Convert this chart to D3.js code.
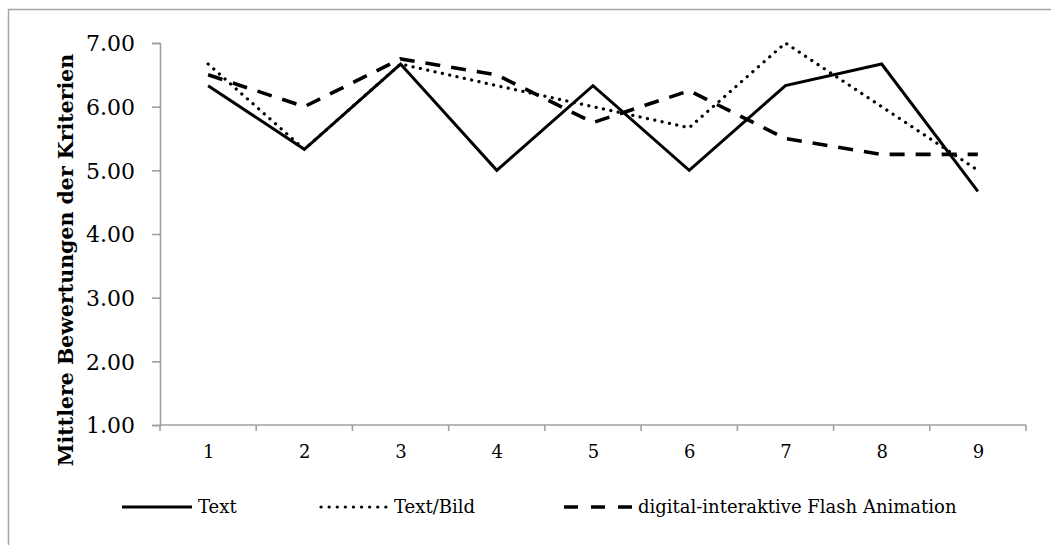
<!DOCTYPE html>
<html>
<head>
<meta charset="utf-8">
<script src="https://cdn.jsdelivr.net/npm/d3@7/dist/d3.min.js"></script>
<style>
  html, body { margin: 0; padding: 0; background: #fff; }
  svg { display: block; }
  text { font-family: "DejaVu Serif", "Liberation Serif", serif; fill: #000; }
</style>
</head>
<body>
<svg id="chart" width="1051" height="545"></svg>
<script>
// Criteria 1..9 on the x axis
const categories = ["1", "2", "3", "4", "5", "6", "7", "8", "9"];
// Mean ratings per presentation format
const textValues = [6.33, 5.33, 6.67, 5.00, 6.33, 5.00, 6.33, 6.67, 4.67];
const textBildValues = [6.67, 5.33, 6.67, 6.33, 6.00, 5.67, 7.00, 6.00, 5.00];
const flashValues = [6.50, 6.00, 6.75, 6.50, 5.75, 6.25, 5.50, 5.25, 5.25];
const yTicks = [1, 2, 3, 4, 5, 6, 7];
const seriesNames = ["Text", "Text/Bild", "digital-interaktive Flash Animation"];
const yTitle = "Mittlere Bewertungen der Kriterien";

const series = [
  { name: seriesNames[0], values: textValues, dash: null, legendDash: null, width: 3, cap: "butt" },
  { name: seriesNames[1], values: textBildValues, dash: "0.1,7.4", legendDash: "0.1,8", width: 3.2, cap: "round" },
  { name: seriesNames[2], values: flashValues, dash: "15,11", legendDash: "14,13", width: 3.6, cap: "butt" }
];

const svg = d3.select("#chart");
const axisColor = "#a0a0a0";

// outer chart border (open to the right and bottom)
svg.append("rect")
  .attr("x", 8.5).attr("y", 9.5)
  .attr("width", 1100).attr("height", 600)
  .attr("fill", "none").attr("stroke", "#a6a6a6").attr("stroke-width", 1.5);

const plotLeft = 160, plotRight = 1026, plotTop = 43, plotBottom = 425;

const x = d3.scalePoint().domain(categories).range([plotLeft, plotRight]).padding(0.5);
const xBand = d3.scaleBand().domain(categories).range([plotLeft, plotRight]).paddingInner(0).paddingOuter(0);
const y = d3.scaleLinear().domain([1, 7]).range([plotBottom, plotTop]);

// y axis
const yAxis = svg.append("g")
  .attr("transform", `translate(${plotLeft},0)`)
  .call(d3.axisLeft(y).tickValues(yTicks).tickFormat(d3.format(".2f")).tickSize(8).tickPadding(17));
yAxis.select(".domain").attr("stroke", axisColor).attr("stroke-width", 1.6);
yAxis.selectAll(".tick line").attr("stroke", axisColor).attr("stroke-width", 1.6);
yAxis.selectAll(".tick text")
  .style("font-family", '"DejaVu Serif", serif')
  .style("font-size", "22px").attr("fill", "#000").attr("dy", "0.36em");

// x axis: labels centred, ticks on category boundaries
const xAxis = svg.append("g")
  .attr("transform", `translate(0,${plotBottom})`)
  .call(d3.axisBottom(x).tickSize(0).tickPadding(20));
xAxis.select(".domain").remove();
xAxis.selectAll(".tick text")
  .style("font-family", '"DejaVu Serif", serif')
  .style("font-size", "18px").attr("fill", "#000");
svg.append("line")
  .attr("x1", plotLeft).attr("x2", plotRight).attr("y1", plotBottom).attr("y2", plotBottom)
  .attr("stroke", axisColor).attr("stroke-width", 1.6);
const boundaries = categories.map(c => xBand(c)).concat([xBand(categories[categories.length - 1]) + xBand.bandwidth()]);
svg.append("g").selectAll("line").data(boundaries).join("line")
  .attr("x1", d => d).attr("x2", d => d)
  .attr("y1", plotBottom).attr("y2", plotBottom + 6)
  .attr("stroke", axisColor).attr("stroke-width", 1.6);

// y axis title
svg.append("text")
  .attr("transform", "translate(73,260) rotate(-90)")
  .attr("text-anchor", "middle")
  .style("font-size", "20.5px").style("font-weight", "bold")
  .text(yTitle);

// series lines
const line = d3.line().x((d, i) => x(categories[i])).y(d => y(d));
series.forEach(s => {
  svg.append("path")
    .datum(s.values)
    .attr("d", line)
    .attr("fill", "none")
    .attr("stroke", "#000")
    .attr("stroke-width", s.width)
    .attr("stroke-linecap", s.cap)
    .attr("stroke-linejoin", "miter")
    .attr("stroke-dasharray", s.dash);
});

// legend
const legendY = 507;
const legendItems = [
  { x1: 122, x2: 192, tx: 198 },
  { x1: 321, x2: 388, tx: 394 },
  { x1: 564, x2: 632, tx: 638 }
];
series.forEach((s, i) => {
  const li = legendItems[i];
  svg.append("line")
    .attr("x1", li.x1).attr("x2", li.x2).attr("y1", legendY).attr("y2", legendY)
    .attr("stroke", "#000").attr("stroke-width", s.width)
    .attr("stroke-linecap", s.cap)
    .attr("stroke-dasharray", s.legendDash);
  svg.append("text")
    .attr("x", li.tx).attr("y", legendY).attr("dy", "0.36em")
    .style("font-size", "18px")
    .text(s.name);
});
</script>
</body>
</html>
